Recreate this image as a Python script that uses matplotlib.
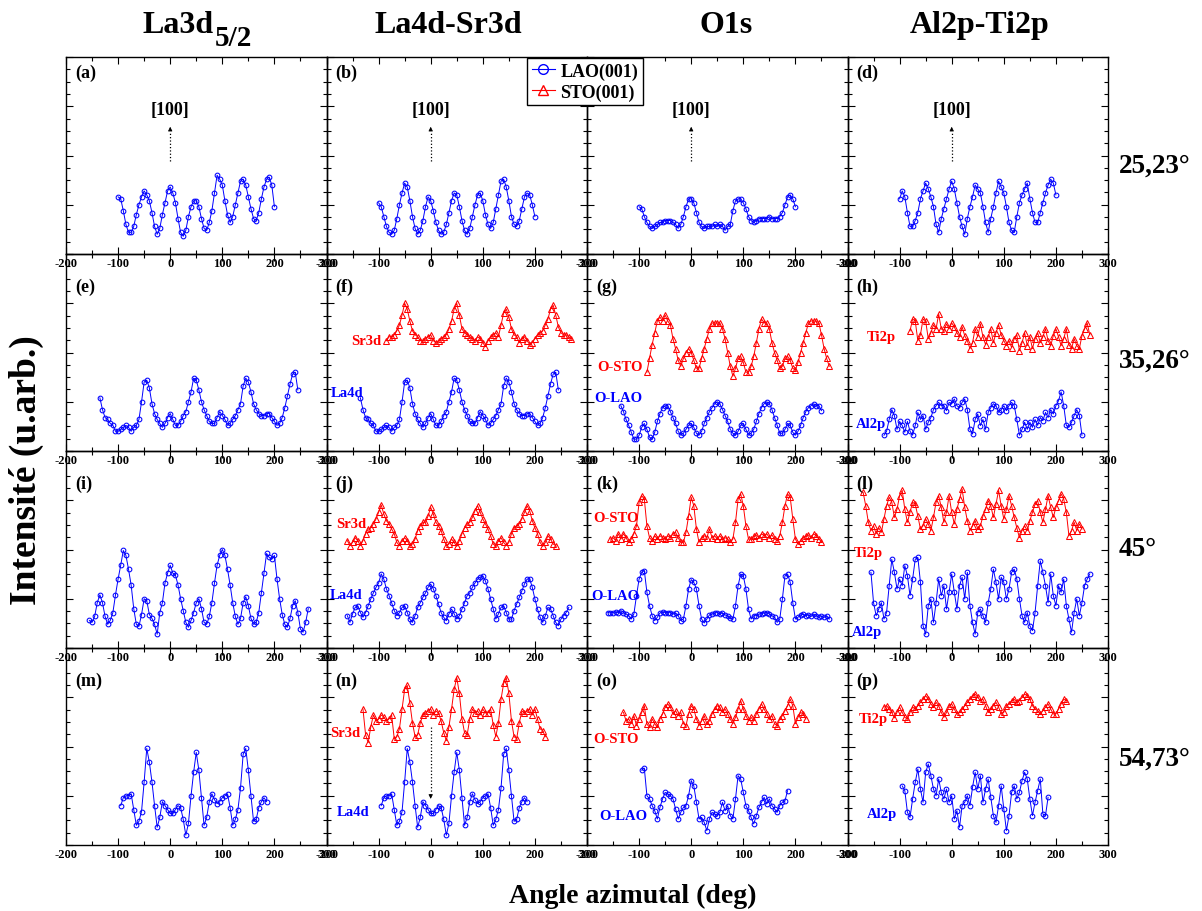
import numpy as np
import matplotlib
matplotlib.use("Agg")
import matplotlib.pyplot as plt
from matplotlib.lines import Line2D

plt.rcParams['font.family'] = ['Liberation Serif', 'DejaVu Serif']
plt.rcParams['font.weight'] = 'bold'
plt.rcParams['axes.unicode_minus'] = False

# ---------------- data (intensity in % of panel height, angle step 5 deg) -------------
STEP = 5
col_titles = ['La4d-Sr3d', 'O1s', 'Al2p-Ti2p']
row_titles = ['25,23°', '35,26°', '45°', '54,73°']
xticks = [-200, -100, 0, 100, 200, 300]

a_la3d = [29,28,22,15,11,11,14,20,25,29,32,30,27,21,14,10,13,20,26,32,34,31,26,18,11,9,12,19,24,27,27,24,18,13,12,16,22,31,40,38,35,27,20,16,19,25,31,37,38,35,29,23,18,17,21,28,34,38,39,35,24]
b_la4d = [26,24,19,14,11,10,12,18,25,31,36,34,27,19,13,10,12,17,24,29,27,22,16,12,10,11,15,21,27,31,30,24,17,12,10,13,19,25,30,31,27,20,15,13,16,23,30,37,38,34,27,19,15,14,17,23,29,31,30,25,19]
c_o1s = [24,23,19,16,14,13,14,15,16,16,17,17,17,16,15,13,15,19,24,28,28,26,21,16,14,13,14,14,14,15,14,15,14,12,14,15,22,27,28,28,26,23,19,17,16,17,18,18,18,18,19,18,18,18,19,21,25,29,30,28,24]
d_al2p = [28,32,29,21,14,14,17,21,28,32,36,33,29,24,15,11,18,23,28,33,37,33,26,19,14,10,18,24,29,35,33,31,24,16,11,18,24,31,37,34,31,24,16,12,11,19,26,30,33,36,28,21,16,16,21,26,31,35,38,36,30]

e_la3d = [27,21,17,16,14,13,10,10,11,12,13,12,10,12,13,16,25,35,36,32,24,19,16,14,12,14,17,19,16,13,13,15,18,20,25,30,37,36,31,25,21,18,15,14,14,17,20,18,16,13,14,16,18,21,24,33,37,35,30,24,21,19,18,18,19,19,17,15,13,14,17,22,28,34,39,40,31]
f_sr3d = [56,58,58,59,61,64,69,75,72,66,61,59,58,56,56,57,58,59,56,55,56,57,58,59,62,66,72,75,69,62,60,59,58,57,56,58,57,55,53,56,58,59,60,58,64,70,72,68,62,59,58,55,57,58,56,54,55,57,59,60,61,64,67,72,74,69,63,60,59,59,58,57]
f_la4d = [27,21,17,16,14,13,10,10,11,12,13,12,10,12,13,16,25,35,36,32,24,19,16,14,12,14,17,19,16,13,13,15,18,20,25,30,37,36,31,25,21,18,15,14,14,17,20,18,16,13,14,16,18,21,24,33,37,35,30,24,21,19,18,18,19,19,17,15,13,14,17,22,28,34,39,40,31]
g_osto = [40,47,54,60,66,68,66,69,66,64,57,52,46,43,47,50,52,50,46,42,42,47,52,57,62,65,65,65,65,62,57,50,43,38,42,47,48,45,40,40,43,48,55,62,67,65,65,62,55,50,46,42,43,47,48,46,42,41,45,50,55,60,65,66,66,66,65,59,52,47,43]
g_olao = [23,20,16,13,9.5,6,6,8,12,14,11,7,6,9.5,15,19,22,23,23,20,17,14,10,8,9,11,13,14,12,9,8,10,14,17,20,22,24,25,24,21,18,15,11,9,8,10,13,14,11,8,9,11,15,19,22,24,25,24,21,17,13,9,9,11,14,13,9.5,8,10,13,17,20,22,23,24,23,23,20.5]
h_ti2p = [61,67,66,56,59,67,66,57,60,64,62,69.5,62,61,64.5,62,65,63,60,58,63,58.5,56,52,55,62,58,64.5,58,54,58,62,55,60,64,59,56,53.5,56,52.5,57,59,51,55,60,53.5,58,52,57,60,55,58,62,56,53.5,58.5,62,58,53.5,57,62,54,52,57,53.5,52,58.5,62,65,59]
h_al2p = [8,10,16,21,18,11,15,13,9.5,15,10,8,13,19.6,16,18,11,14.6,17,21,23,24.7,23,23,20.5,24.7,24,26.4,23,22,24.7,26.4,21,11,8.6,16,18.8,12.9,16,11,19.6,22,24,23,19.6,21,23,20.5,23,24.7,23,16,8,11,14.6,11,14.6,12,16,13,17,15.4,19.6,17,21,18.8,23,25.5,30,23,13,12,14.6,18,21,18,8]

i_la3d = [14,13,16,23,27,23,16,12,14,18,27,35,42,49.5,47,40,32,20,12,11,17,25,24,17,15,12,7,18,23,33,38,42,38,37,32,25,19,13,10.5,14,18,23,25,20,13,12,16,23,33,42,47,50,47,40,32,23,16,12,15,23,26,21.5,15,12,13,18,28,38,48,46,45,47,35,25,17,12,10.5,15,21.5,24,18,9.6,8,13,20]
j_sr3d = [54.5,52,53.6,56,54.5,52,54.5,58,60.4,61,63,65.5,68.9,72.6,68,64.6,63,60.4,58,53.6,52,54.5,56,54.5,52,52.8,55.3,59.6,62,63.8,63.8,67,71.4,68,63.8,62,59.6,55.3,52,52.8,55.3,53.6,51.6,54.5,58,61,63,63.8,66.3,69.7,72.2,68.9,65.5,63,60.4,57,52.8,51.6,54.5,56,53.6,52,53.6,58,61,62,63,65.5,68.9,72.2,69.7,64.6,61,58,53.6,51.6,53.6,57,55.3,52.8,52]
j_la4d = [16.4,13,17.3,20.6,21.5,18,15.6,18,21.5,24.9,28,30.8,33,37.6,35,30,26.6,23,19,16.4,18,20.6,21.5,18,14.7,13,16.4,20.6,23,25.7,28,30.8,32.5,30,26.6,22.3,18,15.6,13.9,17.3,19.8,17.3,14.7,16.4,19.8,23,26.6,28,30.8,33,35,35.9,36.7,34,30,24.9,19.8,14.7,17.3,20.6,21.5,18,14.7,14.7,19,22.3,25.7,29,32.5,35,35,30.8,24.9,19.8,15.6,13,16.4,20.6,19.8,16.4,13,11.3,14.7,16.4,18,20.6]
k_osto = [55.3,56,54.5,58,55.3,58,56,53.6,55.3,58,62,74,77.3,75.6,62,56,54.5,57,55.3,57,56,55.3,57,56,58,58.7,56,53.6,53.6,58.7,67,76.5,72.2,60.4,53.6,56,57,56,60.4,56,57,55.3,57,55.3,56,55.3,53.6,55.3,63.8,75.6,78.2,72.2,62,55.3,55.3,56.7,57.4,56,58,57,58,56,57.4,55.3,54.5,57,63.8,72.2,78.2,76.5,65.5,55.3,52.8,54.5,56,56.7,57.4,56,58,57,55.3,54]
k_olao = [18,17.8,18,18.4,17.8,19,18,17.3,16.4,14.7,17.3,26.6,35,38.4,39.3,28.3,21.5,16.4,13.9,15.6,17.8,18.4,18,17.8,18,17.3,17.8,16.4,13.9,14.7,21.5,30,34.7,33.3,30,21.5,14.7,12.7,14.7,16.8,17.3,17.8,18,17.3,17.8,16.8,16.4,15,14.7,21.5,31.6,37.6,36.7,30,19.8,14.7,16.4,16.4,17.3,17.3,17.8,18,17.3,16.4,15.6,13,14.7,24.9,36.7,37.6,33.3,23,14.7,15.6,16.8,17.1,16.4,16.8,16,17.3,16.4,15.6,16,15.6,16.4,14.7]
l_ti2p = [79,72.2,63.8,59.6,62,58,61,58.7,65.5,72.2,76.5,74,66.3,70.4,77.3,80,70.4,63.8,68.9,74,73,67,60.4,62,65.5,63,59.6,66.3,74,77.3,71.4,63.8,68.9,77.3,68.9,63,70.4,75.6,80.7,71.4,64.6,59.6,62,64.6,60.4,62,67,70.4,74.8,72.2,66.3,73,80,72.2,65.5,70.4,77.3,72.2,66.3,61,56,59.6,62,59.6,64.6,68.9,73,74.8,68.9,63.8,70.4,77.3,71.4,66.3,71.4,74.8,78.2,75.6,68.9,57,59.6,63.8,59.6,63,60.4]
l_al2p = [38.4,23,16.4,19.8,23,14.7,18,31.6,45,38.4,30,35,31.6,41.8,36.7,26.6,35,45,46,33.3,11.3,7,21.5,24.9,13,23,35,26.6,31.6,19.8,28.3,37.6,28.3,19.8,31.6,35.9,24.9,38.4,21.5,13,7,18,19.8,16.4,13,23,30,40,33.3,24.9,35.9,33.3,24.9,30,38.4,40,35,24.9,16.4,13,18,11.3,8.8,18,31.6,44.2,38.4,31.6,23,37.6,26.6,21.5,31.6,28.3,35,21.5,14.7,8,18,24.9,16.4,23,31.6,35,37.6]

m_la3d = [20,24,25,25,26,18,10,12,17,32,49,42,32,20,9,14,22,20,18,16,16,18,20,19,13,5,11,25,37,47,38,24,10,14,22,26,23,21,22,24,25,26,19,10,13,18,29,46,49,38,25,12,13,19,22,24,22]
n_sr3d = [69,56,52,60,66,63,64,66,65,63,64,66,54,55,59,69,79,81,72,62,55,56,62,66,67,68,69,66,68,67,63,57,53,60,69,79,85,77,64,57,56,64,69,67,68,66,69,67,67,69,61,55,62,74,82,85,77,63,55,54,62,68,67,68,69,66,69,64,59,58,55]
n_la4d = [20,24,25,25,26,18,10,12,17,32,49,42,32,20,9,14,22,20,18,16,16,18,20,19,13,5,11,25,37,47,38,24,10,14,22,26,23,21,22,24,25,26,19,10,13,18,29,46,49,38,25,12,13,19,22,24,22]
o_osto = [67.3,63,64,61.6,65.6,60.6,64,67.3,70.7,61.4,59.7,64,61.6,59.7,64,66.5,69.9,71.6,69.9,66.5,68.2,65.6,67.3,61.6,60.6,66.5,70.7,69,64,60.6,63,65.6,61.4,63,66.5,69,70.7,69.9,67.3,69,66.5,64,61.6,64.8,69,73.3,69,65.6,63,64.8,63,66.5,69,71.6,69,66.5,64,65.6,61.6,60.6,64,65.6,68.2,70.7,74,70.7,61.6,64.8,67.3,66.5,64]
o_olao = [38,39,25,23.4,20,17.4,13.2,19.1,23.4,26.7,25.9,25,23.4,18.3,13.2,16.6,19.1,20,25,32.7,30,21.7,13.2,14,11.5,7.3,13.2,16.6,15.7,14.9,16.6,21.7,17.4,20,14.9,13.2,23.4,35.2,33.5,26.7,20,17.4,14,10.7,14.9,19.1,21.7,24.2,20.8,23.4,20,18.3,16.6,20,21.7,22.5,27.6]
p_ti2p = [70,70.7,69,67.3,64.5,67.3,70,67.3,64.8,64,67.3,70,69,70.7,72.4,74,75.8,74,71.6,70,72.4,70.7,67.3,64.8,67.3,70.7,71.6,69,66.5,67.3,69,70.7,72.4,74,75.8,76.6,74.9,73.3,74,70.7,67.3,69,70.7,72.4,70,66.5,67.3,70.7,71.6,73.3,74,72.4,73.3,74.9,76.6,75.8,74,70.7,69,68.2,66.5,68.2,70,71.6,69,66.5,66.5,69,71.6,74,73.3]
p_al2p = [30,27.6,16.6,14,23.4,31.8,38.6,28.4,21.7,36.9,41.1,35.2,28.4,25,33.5,26.7,23.4,28.4,21.7,25,13.2,17.4,9,20,21.7,25,20,29.3,36.9,28.4,35.2,21.7,28.4,33.5,24.2,14.9,11.5,20,30,18.3,7.3,14.9,26.7,30,23.4,26.7,32.7,36.9,33.5,23.4,14.9,21.7,27.6,33.5,15.7,14.9,24.2]

BLUE = '#0000ff'
RED = '#ff0000'

# (series, first angle, colour)
panel_curves = {
    'a': [(a_la3d, -100, 'b')], 'b': [(b_la4d, -100, 'b')],
    'c': [(c_o1s, -100, 'b')], 'd': [(d_al2p, -100, 'b')],
    'e': [(e_la3d, -135, 'b')], 'f': [(f_sr3d, -85, 'r'), (f_la4d, -135, 'b')],
    'g': [(g_osto, -85, 'r'), (g_olao, -135, 'b')], 'h': [(h_ti2p, -80, 'r'), (h_al2p, -130, 'b')],
    'i': [(i_la3d, -155, 'b')], 'j': [(j_sr3d, -160, 'r'), (j_la4d, -160, 'b')],
    'k': [(k_osto, -155, 'r'), (k_olao, -160, 'b')], 'l': [(l_ti2p, -170, 'r'), (l_al2p, -155, 'b')],
    'm': [(m_la3d, -95, 'b')], 'n': [(n_sr3d, -130, 'r'), (n_la4d, -95, 'b')],
    'o': [(o_osto, -130, 'r'), (o_olao, -95, 'b')], 'p': [(p_ti2p, -130, 'r'), (p_al2p, -95, 'b')],
}
panel_labels = {
    'f': [('Sr3d', 'r', -124, 56), ('La4d', 'b', -161, 29.5)],
    'g': [('O-STO', 'r', -137, 43), ('O-LAO', 'b', -139, 27)],
    'h': [('Ti2p', 'r', -135, 58), ('Al2p', 'b', -155, 14)],
    'j': [('Sr3d', 'r', -153, 63), ('La4d', 'b', -162, 27.4)],
    'k': [('O-STO', 'r', -144, 66), ('O-LAO', 'b', -146, 26.4)],
    'l': [('Ti2p', 'r', -160, 48.7), ('Al2p', 'b', -162, 8.6)],
    'n': [('Sr3d', 'r', -164, 57), ('La4d', 'b', -150, 17)],
    'o': [('O-STO', 'r', -144, 54), ('O-LAO', 'b', -131, 15)],
    'p': [('Ti2p', 'r', -151, 64), ('Al2p', 'b', -134, 16)],
}

# ---------------- figure ----------------
W, H = 1202, 912
fig = plt.figure(figsize=(W / 100, H / 100), dpi=100)

col_left = [66, 326.5, 587, 847.5]
col_w = 260.5
row_top = [58, 255, 452, 649]
row_h = 197


def fx(px):
    return px / W


def fy(py):
    return 1 - py / H


letters = 'abcdefghijklmnop'
for idx, let in enumerate(letters):
    r, c = divmod(idx, 4)
    ax = fig.add_axes([fx(col_left[c]), fy(row_top[r] + row_h), col_w / W, row_h / H])
    ax.set_facecolor('none')
    ax.set_xlim(-200, 300)
    ax.set_ylim(0, 100)
    ax.set_xticks(xticks)
    ax.set_xticks(np.arange(-150, 300, 100), minor=True)
    ax.set_yticks(np.arange(0, 101, 25))
    ax.set_yticks(np.arange(0, 100, 6.25), minor=True)
    ax.tick_params(which='both', direction='in', top=True, right=True,
                   labelleft=False, labelsize=9, pad=2, width=0.8)
    ax.tick_params(which='major', length=5)
    ax.tick_params(which='minor', length=3)
    for lab in ax.get_xticklabels():
        lab.set_fontweight('bold')
    for sp in ax.spines.values():
        sp.set_linewidth(1.0)

    for ys, x0, col in panel_curves[let]:
        x = x0 + STEP * np.arange(len(ys))
        if col == 'b':
            ax.plot(x, ys, '-', color=BLUE, lw=0.7, marker='o', ms=3.4, mfc='none',
                    mec=BLUE, mew=0.75)
        else:
            ax.plot(x, ys, '-', color=RED, lw=0.7, marker='^', ms=3.8, mfc='none',
                    mec=RED, mew=0.75)

    for txt, col, tx, ty in panel_labels.get(let, []):
        ax.text(tx, ty, txt, color=BLUE if col == 'b' else RED, ha='center',
                va='center', fontsize=10.5, fontweight='bold')

    ax.text(0.035, 0.92 if r == 0 else 0.835, '(%s)' % let, transform=ax.transAxes,
            ha='left', va='center', fontsize=13, fontweight='bold')

    if r == 0:
        ax.text(0, 73.6, '[100]', ha='center', va='center', fontsize=13, fontweight='bold')
        ax.plot([0, 0], [47, 62], ls=':', color='k', lw=0.9)
        ax.annotate('', xy=(0, 66), xytext=(0, 61.5),
                    arrowprops=dict(arrowstyle='-|>', color='k', lw=0.6, mutation_scale=6))
    if let == 'n':
        ax.plot([0, 0], [60, 27], ls=':', color='k', lw=0.9)
        ax.annotate('', xy=(0, 22), xytext=(0, 27),
                    arrowprops=dict(arrowstyle='-|>', color='k', lw=0.6, mutation_scale=6))

# column titles
fig.text(fx(214), fy(33), 'La3d', ha='right', va='baseline', fontsize=23, fontweight='bold')
fig.text(fx(215), fy(46), '5/2', ha='left', va='baseline', fontsize=21, fontweight='bold')
for tx, xc in zip(col_titles, [448, 726, 980]):
    fig.text(fx(xc), fy(33), tx, ha='center', va='baseline', fontsize=23, fontweight='bold')

# row titles
for tx, yb in zip(row_titles, [173, 368, 556, 766]):
    fig.text(fx(1119), fy(yb), tx, ha='left', va='baseline', fontsize=19.5, fontweight='bold')

fig.text(fx(26), fy(470), 'Intensité (u.arb.)', rotation=90, ha='center', va='center',
         fontsize=27, fontweight='bold')
fig.text(fx(633), fy(903), 'Angle azimutal (deg)', ha='center', va='baseline',
         fontsize=20, fontweight='bold')

handles = [Line2D([], [], color=BLUE, lw=0.8, marker='o', ms=7, mfc='none', mec=BLUE),
           Line2D([], [], color=RED, lw=0.8, marker='^', ms=7, mfc='none', mec=RED)]
leg = fig.legend(handles, ['LAO(001)', 'STO(001)'], loc='upper left',
                 bbox_to_anchor=(fx(527), fy(59)), frameon=True, fancybox=False,
                 edgecolor='k', framealpha=1, prop={'size': 13, 'weight': 'bold'},
                 handlelength=1.3, handletextpad=0.3, borderpad=0.25, labelspacing=0.2,
                 borderaxespad=0)
leg.get_frame().set_linewidth(1.0)

fig.savefig('out.png', dpi=100)
